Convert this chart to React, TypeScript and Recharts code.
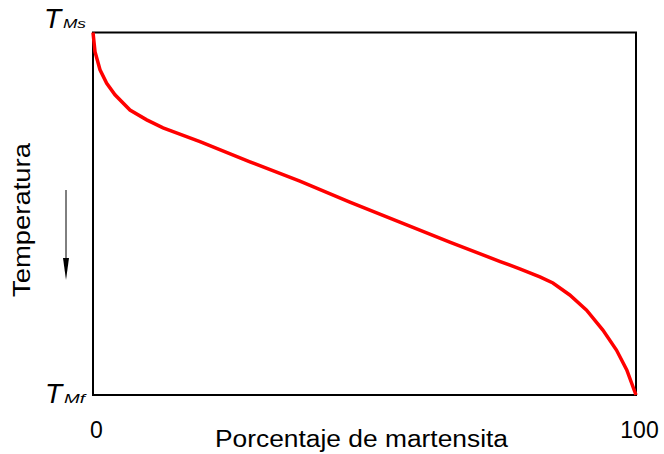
import { Line, LineChart, ReferenceArea, XAxis, YAxis } from "recharts";

// transformation curve: percent martensite vs. temperature (100 = Ms, 0 = Mf)
const martensitePct = [
  0, 0.37, 1.29, 2.52, 4.05, 6.81, 9.89, 12.9, 19.7, 28.9, 38.1, 47.3, 56.5,
  65.7, 75.0, 78.6, 82.3, 84.7, 87.8, 90.9, 93.9, 96.4, 98.3, 100,
];
const temperature = [
  100, 94.7, 89.7, 86.0, 82.8, 78.6, 75.9, 73.7, 69.9, 64.3, 59.0, 53.2, 47.7,
  42.2, 36.8, 34.8, 32.6, 30.9, 27.6, 23.4, 17.9, 12.4, 6.9, 0,
];
const xTicks = [0, 100];

const font = "'Liberation Sans', Arial, sans-serif";

// italic T with a stretched subscript, as used for Ms / Mf
function TempLabel({ x, y, sub }: { x: number; y: number; sub: string }) {
  return (
    <g fontFamily={font} fill="#000" fontStyle="italic">
      <text x={x} y={y} fontSize={28}>
        T
      </text>
      <text
        x={x + 19}
        y={y}
        fontSize={13}
        textLength={sub === "Ms" ? 23 : 21}
        lengthAdjust="spacingAndGlyphs"
      >
        {sub}
      </text>
    </g>
  );
}

export default function App() {
  const data = martensitePct.map((pct, i) => ({ pct, temp: temperature[i] }));

  return (
    <div style={{ position: "absolute", left: 0, top: 0 }}>
      <LineChart
        width={664}
        height={454}
        data={data}
        margin={{ top: 32.5, right: 28, bottom: 29, left: 93 }}
      >
        <XAxis
          dataKey="pct"
          type="number"
          domain={[0, 100]}
          ticks={xTicks}
          axisLine={false}
          tickLine={false}
          tickMargin={21}
          height={30}
          tick={{ fontSize: 23, fill: "#000", fontFamily: font, dx: 3.5 }}
        />
        <YAxis dataKey="temp" type="number" domain={[0, 100]} hide />
        <ReferenceArea
          x1={0}
          x2={100}
          y1={0}
          y2={100}
          fill="none"
          stroke="#000"
          strokeWidth={2}
          fillOpacity={0}
        />
        <Line
          dataKey="temp"
          type="linear"
          stroke="#ff0000"
          strokeWidth={3.5}
          dot={false}
          isAnimationActive={false}
        />
        <TempLabel x={44} y={28} sub="Ms" />
        <TempLabel x={45} y={403} sub="Mf" />
        <g fontFamily={font} fill="#000">
          <text
            x={361.5}
            y={446.5}
            fontSize={23}
            textAnchor="middle"
            textLength={293}
            lengthAdjust="spacingAndGlyphs"
          >
            Porcentaje de martensita
          </text>
          <text
            x={29.5}
            y={220}
            fontSize={23}
            textAnchor="middle"
            textLength={154}
            lengthAdjust="spacingAndGlyphs"
            transform="rotate(-90, 29.5, 220)"
          >
            Temperatura
          </text>
        </g>
        <line x1={66} y1={190} x2={66} y2={262} stroke="#000" strokeWidth={1} />
        <polygon points="63,258 66,280 69,258" fill="#000" />
      </LineChart>
    </div>
  );
}
